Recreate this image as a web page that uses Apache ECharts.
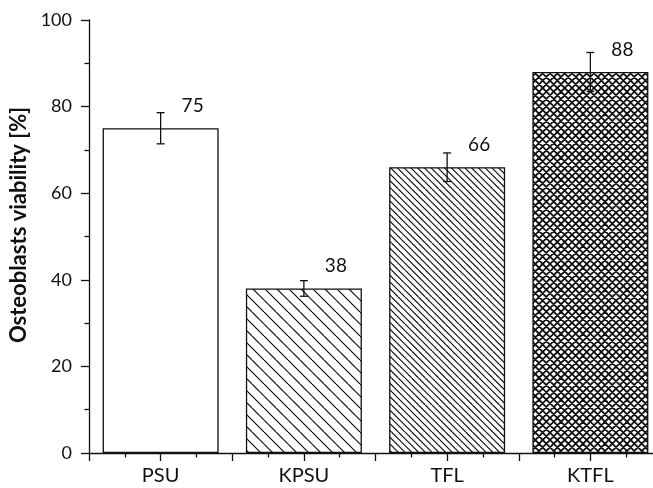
<!DOCTYPE html>
<html>
<head>
<meta charset="utf-8">
<script src="https://cdn.jsdelivr.net/npm/echarts@6/dist/echarts.min.js"></script>
<style>
  html, body { margin: 0; padding: 0; background: #fff; }
  #chart { width: 653px; height: 488px; }
</style>
</head>
<body>
<div id="chart"></div>
<script>
// Osteoblast viability per material, with standard deviation
const categories = ['PSU', 'KPSU', 'TFL', 'KTFL'];
const viability = [75, 38, 66, 88];
const viabilityError = [3.6, 1.8, 3.3, 4.5];
const yTickValues = [0, 20, 40, 60, 80, 100];

const FONT = 'Lato';
const INK = '#111';

// Build a repeating hatch tile: "\" diagonals, optionally crossed with "/"
function hatch(spacing, count, cross, lineWidth) {
  const size = Math.round(spacing * count);
  const c = document.createElement('canvas');
  c.width = size; c.height = size;
  const g = c.getContext('2d');
  g.fillStyle = '#fff';
  g.fillRect(0, 0, size, size);
  g.strokeStyle = INK;
  g.lineWidth = lineWidth;
  const step = size / count;
  g.beginPath();
  for (let k = -count - 1; k <= count + 1; k++) {
    g.moveTo(k * step, 0);
    g.lineTo(k * step + size, size);
    if (cross) {
      g.moveTo(k * step, size);
      g.lineTo(k * step + size, 0);
    }
  }
  g.stroke();
  return { image: c, repeat: 'repeat' };
}

const fills = [
  '#ffffff',
  hatch(12, 2, false, 1.2),
  hatch(6.75, 4, false, 1.2),
  hatch(7.33, 3, true, 1.8)
];

const barData = categories.map((name, i) => ({
  value: [i + 1, viability[i]],
  itemStyle: { color: fills[i] }
}));
const errorData = categories.map((name, i) => [i + 1, viability[i], viabilityError[i]]);

const chart = echarts.init(document.getElementById('chart'), null, { renderer: 'canvas' });

chart.setOption({
  animation: false,
  backgroundColor: '#fff',
  // x axis runs from 0.5 to 4.5 and continues past the right edge of the canvas
  grid: { left: 89, width: 573, top: 20, bottom: 35, containLabel: false, outerBoundsMode: 'none' },
  xAxis: {
    type: 'value',
    min: 0.5,
    max: 4.5,
    interval: 0.5,
    splitLine: { show: false },
    axisLine: { show: true, onZero: false, lineStyle: { color: INK, width: 1.3 } },
    axisTick: { show: true, inside: false, length: 8, lineStyle: { color: INK, width: 1.3 } },
    minorTick: { show: true, splitNumber: 2, length: 4.5, lineStyle: { color: INK, width: 1.3 } },
    axisLabel: {
      margin: 13,
      color: INK,
      fontFamily: FONT,
      fontSize: 20,
      formatter: function (v) {
        const idx = Math.round(v) - 1;
        return Math.abs(v - Math.round(v)) < 1e-6 && categories[idx] ? categories[idx] : '';
      }
    }
  },
  yAxis: {
    type: 'value',
    min: yTickValues[0],
    max: yTickValues[yTickValues.length - 1],
    interval: yTickValues[1] - yTickValues[0],
    splitLine: { show: false },
    axisLine: { show: true, lineStyle: { color: INK, width: 1.3 } },
    axisTick: { show: true, inside: false, length: 8, lineStyle: { color: INK, width: 1.3 } },
    minorTick: { show: true, splitNumber: 2, length: 4.5, lineStyle: { color: INK, width: 1.3 } },
    axisLabel: { margin: 17, color: INK, fontFamily: FONT, fontSize: 18 }
  },
  graphic: [{
    type: 'text',
    x: 19,
    y: 225,
    rotation: Math.PI / 2,
    style: {
      text: 'Osteoblasts viability [%]',
      fill: INK,
      font: 'bold 22px ' + FONT,
      align: 'center',
      verticalAlign: 'middle'
    }
  }],
  series: [
    {
      type: 'bar',
      barWidth: 116,
      data: barData,
      itemStyle: { borderColor: INK, borderWidth: 1.3 },
      label: {
        show: true,
        position: 'top',
        distance: 5,
        offset: [32, -8],
        color: INK,
        fontFamily: FONT,
        fontSize: 19,
        formatter: p => String(p.value[1])
      },
      z: 2
    },
    {
      type: 'custom',
      data: errorData,
      z: 3,
      renderItem: function (params, api) {
        const x = api.value(0), y = api.value(1), e = api.value(2);
        const top = api.coord([x, y + e]);
        const bot = api.coord([x, y - e]);
        const cap = 4;
        const style = { stroke: INK, lineWidth: 1.3 };
        return {
          type: 'group',
          children: [
            { type: 'line', shape: { x1: top[0], y1: top[1], x2: bot[0], y2: bot[1] }, style },
            { type: 'line', shape: { x1: top[0] - cap, y1: top[1], x2: top[0] + cap, y2: top[1] }, style },
            { type: 'line', shape: { x1: bot[0] - cap, y1: bot[1], x2: bot[0] + cap, y2: bot[1] }, style }
          ]
        };
      }
    }
  ]
});
</script>
</body>
</html>
